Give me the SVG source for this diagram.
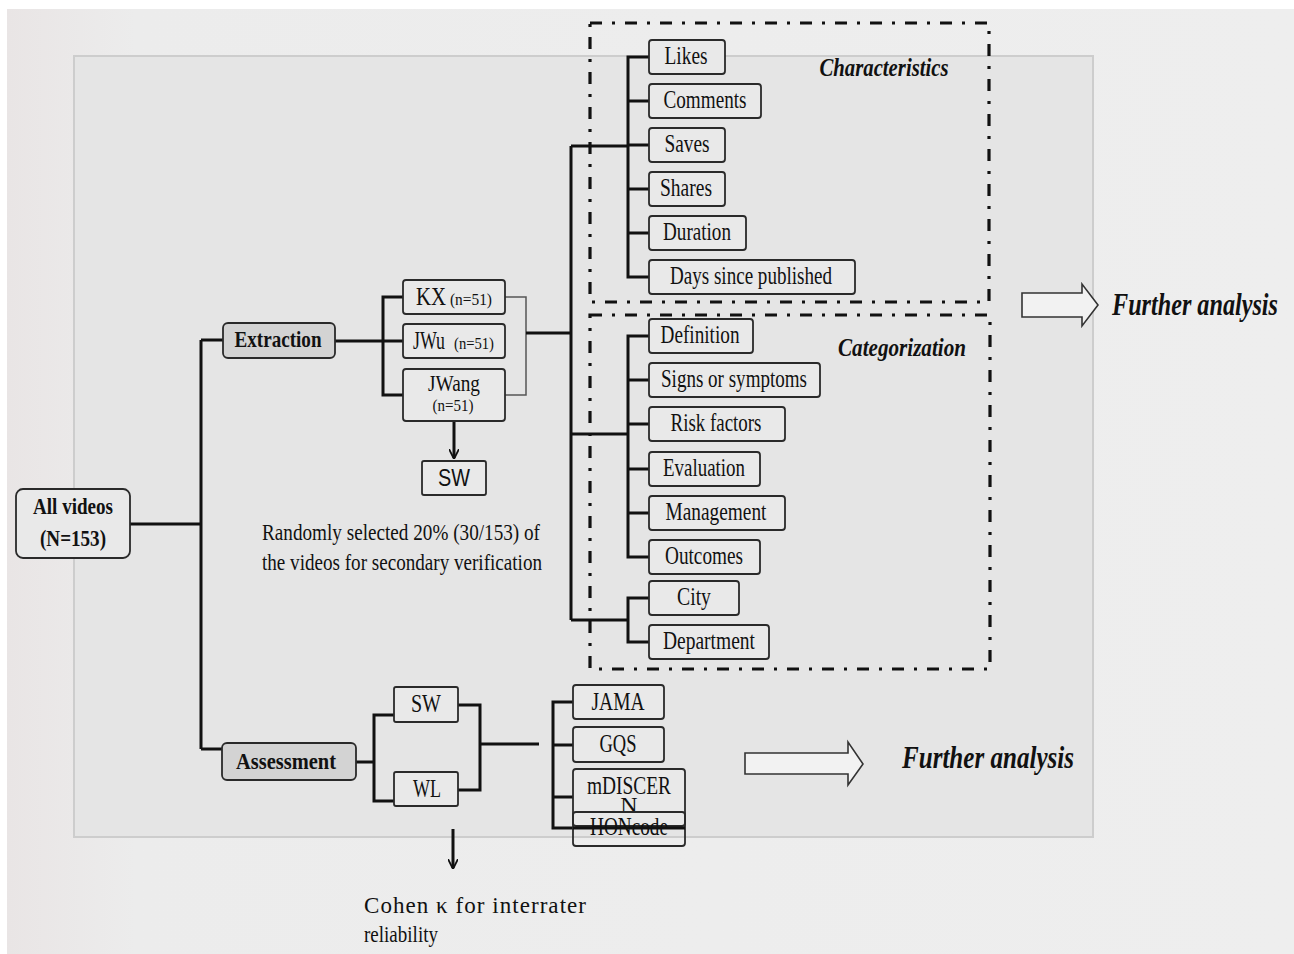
<svg xmlns="http://www.w3.org/2000/svg" width="1294" height="954" viewBox="0 0 1294 954">
<defs>
<style>
.t{font-family:"Liberation Serif","Times New Roman",serif;fill:#111;text-anchor:middle}
.b{font-weight:bold}
.bi{font-weight:bold;font-style:italic}
.box{fill:#e9e9e9;stroke:#2a2a2a;stroke-width:1.8}
.gbox{fill:#d3d3d3;stroke:#2a2a2a;stroke-width:1.8}
.ln{fill:none;stroke:#111;stroke-width:3}
.thin{fill:none;stroke:#555;stroke-width:1.5}
.dash{fill:none;stroke:#111;stroke-width:3.2;stroke-dasharray:12 10 3 10}
.harrow{fill:#f2f2f2;stroke:#333;stroke-width:1.6}
</style>
<linearGradient id="bg" x1="0" y1="0" x2="1" y2="0">
<stop offset="0" stop-color="#e9e5e5"/>
<stop offset="0.1" stop-color="#ececec"/>
<stop offset="1" stop-color="#eeeeee"/>
</linearGradient>
<marker id="ah" viewBox="0 0 10 10" refX="9" refY="5" markerWidth="10" markerHeight="10" markerUnits="userSpaceOnUse" orient="auto">
<path d="M0,0 L10,5 L0,10" fill="none" stroke="#111" stroke-width="1.8"/>
</marker>
</defs>
<rect x="0" y="0" width="1294" height="954" fill="#ffffff"/>
<rect x="7" y="9" width="1287" height="945" fill="url(#bg)"/>
<rect id="panel" x="74" y="56" width="1019" height="781" fill="#e5e5e5" stroke="#cdcdcd" stroke-width="2"/>

<g id="groups">
<rect x="590" y="23" width="399" height="279" class="dash"/>
<rect x="590" y="315" width="400" height="354" class="dash"/>
<text class="t bi" x="884" y="76" font-size="25" textLength="129" lengthAdjust="spacingAndGlyphs">Characteristics</text>
<text class="t bi" x="902" y="356" font-size="25" textLength="128" lengthAdjust="spacingAndGlyphs">Categorization</text>
</g>

<g id="connectors">
<path class="ln" d="M130,524 H201 M201,340 V749 M201,340 H223 M201,749 H222"/>
<path class="ln" d="M335,341 H403 M403,297 H383 V395 H403"/>
<path class="thin" d="M505,297 H526 V395 H505"/>
<path class="ln" d="M526,333 H571 M571,146 V620 M571,146 H628 M571,434 H628 M571,620 H628"/>
<path class="ln" d="M649,57 H628 V277 H649 M628,101 H649 M628,145 H649 M628,189 H649 M628,233 H649"/>
<path class="ln" d="M649,336 H628 V557 H649 M628,380 H649 M628,424 H649 M628,469 H649 M628,513 H649"/>
<path class="ln" d="M649,598 H628 V642 H649"/>
<path class="ln" d="M454,421 V458" stroke-width="2" marker-end="url(#ah)"/>
<path class="ln" d="M356,762 H374 M394,715 H374 V801 H394"/>
<path class="ln" d="M458,705 H480 V790 H458 M480,744 H539"/>
<path class="ln" d="M573,702 H553 V828 H573 M553,745 H573 M553,797 H573"/>
<path class="ln" d="M453,829 V868" stroke-width="2" marker-end="url(#ah)"/>
</g>

<g id="all-videos">
<rect class="box" x="16" y="489" width="114" height="69" rx="7"/>
<text class="t b" x="73" y="514" font-size="24" textLength="80" lengthAdjust="spacingAndGlyphs">All videos</text>
<text class="t b" x="73" y="546" font-size="24" textLength="66" lengthAdjust="spacingAndGlyphs">(N=153)</text>
</g>

<g id="extraction">
<rect class="gbox" x="223" y="323" width="112" height="35" rx="5"/>
<text class="t b" x="278" y="347" font-size="24" textLength="87" lengthAdjust="spacingAndGlyphs">Extraction</text>
</g>

<g id="kx">
<rect class="box" x="403" y="280" width="102" height="34" rx="3"/>
<text class="t" x="431" y="305" font-size="25" textLength="30" lengthAdjust="spacingAndGlyphs">KX</text>
<text class="t" x="471" y="305" font-size="17" textLength="42" lengthAdjust="spacingAndGlyphs">(n=51)</text>
</g>
<g id="jwu">
<rect class="box" x="403" y="324" width="102" height="34" rx="3"/>
<text class="t" x="429" y="349" font-size="25" textLength="32" lengthAdjust="spacingAndGlyphs">JWu</text>
<text class="t" x="474" y="349" font-size="17" textLength="40" lengthAdjust="spacingAndGlyphs">(n=51)</text>
</g>
<g id="jwang">
<rect class="box" x="403" y="369" width="102" height="52" rx="3"/>
<text class="t" x="454" y="391" font-size="23" textLength="52" lengthAdjust="spacingAndGlyphs">JWang</text>
<text class="t" x="453" y="411" font-size="17" textLength="41" lengthAdjust="spacingAndGlyphs">(n=51)</text>
</g>
<g id="sw-verify">
<rect class="box" x="422" y="461" width="64" height="34" rx="2"/>
<text x="454" y="486" font-family="Liberation Sans, Arial, sans-serif" font-size="24" fill="#111" text-anchor="middle" textLength="32" lengthAdjust="spacingAndGlyphs">SW</text>
</g>
<g id="random-note">
<text class="t" x="401" y="540" font-size="24" textLength="278" lengthAdjust="spacingAndGlyphs">Randomly selected 20% (30/153) of</text>
<text class="t" x="402" y="570" font-size="24" textLength="280" lengthAdjust="spacingAndGlyphs">the videos for secondary verification</text>
</g>

<g id="likes"><rect class="box" x="649" y="40" width="76" height="34" rx="3"/><text class="t" x="686" y="64" font-size="25" textLength="43" lengthAdjust="spacingAndGlyphs">Likes</text></g>
<g id="comments"><rect class="box" x="649" y="84" width="112" height="34" rx="3"/><text class="t" x="705" y="108" font-size="25" textLength="83" lengthAdjust="spacingAndGlyphs">Comments</text></g>
<g id="saves"><rect class="box" x="649" y="128" width="76" height="34" rx="3"/><text class="t" x="687" y="152" font-size="25" textLength="45" lengthAdjust="spacingAndGlyphs">Saves</text></g>
<g id="shares"><rect class="box" x="649" y="172" width="76" height="34" rx="3"/><text class="t" x="686" y="196" font-size="25" textLength="52" lengthAdjust="spacingAndGlyphs">Shares</text></g>
<g id="duration"><rect class="box" x="649" y="216" width="97" height="34" rx="3"/><text class="t" x="697" y="240" font-size="25" textLength="68" lengthAdjust="spacingAndGlyphs">Duration</text></g>
<g id="days"><rect class="box" x="649" y="260" width="206" height="34" rx="3"/><text class="t" x="751" y="284" font-size="25" textLength="162" lengthAdjust="spacingAndGlyphs">Days since published</text></g>

<g id="definition"><rect class="box" x="649" y="319" width="104" height="34" rx="3"/><text class="t" x="700" y="343" font-size="25" textLength="79" lengthAdjust="spacingAndGlyphs">Definition</text></g>
<g id="signs"><rect class="box" x="649" y="363" width="171" height="34" rx="3"/><text class="t" x="734" y="387" font-size="25" textLength="146" lengthAdjust="spacingAndGlyphs">Signs or symptoms</text></g>
<g id="risk"><rect class="box" x="649" y="407" width="136" height="34" rx="3"/><text class="t" x="716" y="431" font-size="25" textLength="91" lengthAdjust="spacingAndGlyphs">Risk factors</text></g>
<g id="evaluation"><rect class="box" x="649" y="452" width="111" height="34" rx="3"/><text class="t" x="704" y="476" font-size="25" textLength="82" lengthAdjust="spacingAndGlyphs">Evaluation</text></g>
<g id="management"><rect class="box" x="649" y="496" width="136" height="34" rx="3"/><text class="t" x="716" y="520" font-size="25" textLength="101" lengthAdjust="spacingAndGlyphs">Management</text></g>
<g id="outcomes"><rect class="box" x="649" y="540" width="111" height="34" rx="3"/><text class="t" x="704" y="564" font-size="25" textLength="78" lengthAdjust="spacingAndGlyphs">Outcomes</text></g>
<g id="city"><rect class="box" x="649" y="581" width="90" height="34" rx="3"/><text class="t" x="694" y="605" font-size="25" textLength="34" lengthAdjust="spacingAndGlyphs">City</text></g>
<g id="department"><rect class="box" x="649" y="625" width="120" height="34" rx="3"/><text class="t" x="709" y="649" font-size="25" textLength="92" lengthAdjust="spacingAndGlyphs">Department</text></g>

<g id="further-top">
<polygon class="harrow" points="1022,293 1082,293 1082,284 1098,305 1082,326 1082,317 1022,317"/>
<text class="t bi" x="1195" y="315" font-size="32" textLength="166" lengthAdjust="spacingAndGlyphs">Further analysis</text>
</g>

<g id="assessment">
<rect class="gbox" x="222" y="743" width="134" height="37" rx="5"/>
<text class="t b" x="286" y="769" font-size="24" textLength="100" lengthAdjust="spacingAndGlyphs">Assessment</text>
</g>
<g id="sw"><rect class="box" x="394" y="687" width="64" height="35" rx="2"/><text class="t" x="426" y="712" font-size="25" textLength="30" lengthAdjust="spacingAndGlyphs">SW</text></g>
<g id="wl"><rect class="box" x="394" y="772" width="64" height="34" rx="2"/><text class="t" x="427" y="797" font-size="25" textLength="28" lengthAdjust="spacingAndGlyphs">WL</text></g>

<g id="jama"><rect class="box" x="573" y="685" width="91" height="34" rx="3"/><text class="t" x="618" y="710" font-size="25" textLength="53" lengthAdjust="spacingAndGlyphs">JAMA</text></g>
<g id="gqs"><rect class="box" x="573" y="727" width="91" height="35" rx="3"/><text class="t" x="618" y="752" font-size="25" textLength="37" lengthAdjust="spacingAndGlyphs">GQS</text></g>
<g id="mdiscern"><rect class="box" x="573" y="769" width="112" height="57" rx="3"/><text class="t" x="629" y="794" font-size="25" textLength="84" lengthAdjust="spacingAndGlyphs">mDISCER</text><text class="t" x="629" y="813" font-size="24">N</text></g>
<g id="honcode"><rect class="box" x="573" y="812" width="112" height="34" rx="3" fill-opacity="0"/><text class="t" x="629" y="835" font-size="25" textLength="78" lengthAdjust="spacingAndGlyphs">HONcode</text><path class="ln" d="M573,828 H685" stroke-width="2"/></g>

<g id="further-bottom">
<polygon class="harrow" points="745,753 848,753 848,742 863,764 848,785 848,774 745,774"/>
<text class="t bi" x="988" y="768" font-size="32" textLength="172" lengthAdjust="spacingAndGlyphs">Further analysis</text>
</g>

<g id="cohen">
<text x="364" y="913" font-family="Liberation Serif, serif" font-size="23" fill="#111" textLength="222" lengthAdjust="spacing">Cohen κ for interrater</text>
<text x="364" y="942" font-family="Liberation Serif, serif" font-size="23" fill="#111" textLength="74" lengthAdjust="spacingAndGlyphs">reliability</text>
</g>
</svg>
